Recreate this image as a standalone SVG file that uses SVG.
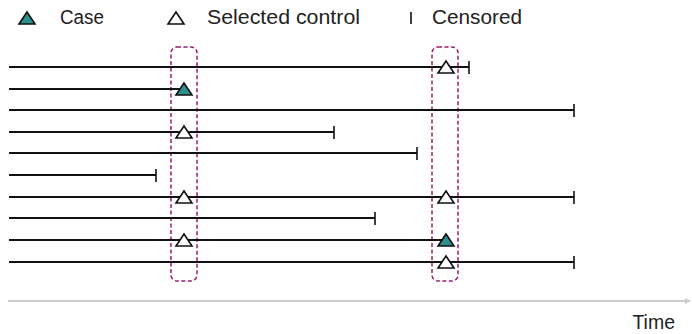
<svg xmlns="http://www.w3.org/2000/svg" width="692" height="334" viewBox="0 0 692 334">
<style>
.l{stroke:#111;stroke-width:1.8;fill:none}
.t{stroke:#111;stroke-width:1.6}
.ctrl{fill:#fff;stroke:#111;stroke-width:1.6;stroke-linejoin:miter}
.case{fill:#2a8f8f;stroke:#111;stroke-width:1.6}
.box{fill:none;stroke:#9c1c6c;stroke-width:1.5;stroke-dasharray:4 2.5}
.txt{font-family:"Liberation Sans",Arial,sans-serif;font-size:19.5px;fill:#222}
</style>
<defs>
<path id="tri" d="M0,-7 L8,5 L-8,5 Z"/>
<marker id="ah" markerWidth="6" markerHeight="6" refX="5" refY="3" orient="auto" markerUnits="userSpaceOnUse"><path d="M0,0 L6,3 L0,6 Z" fill="#ccc"/></marker>
</defs>
<g id="legend">
<use href="#tri" class="case" x="27" y="19"/>
<text class="txt" x="60" y="24" textLength="44" lengthAdjust="spacingAndGlyphs">Case</text>
<use href="#tri" class="ctrl" x="176" y="19"/>
<text class="txt" x="207" y="24" textLength="153" lengthAdjust="spacingAndGlyphs">Selected control</text>
<line class="t" x1="411" y1="12" x2="411" y2="24"/>
<text class="txt" x="432" y="24" textLength="90" lengthAdjust="spacingAndGlyphs">Censored</text>
</g>
<g id="risk-sets">
<rect class="box" x="171" y="47" width="26" height="234" rx="6"/>
<rect class="box" x="432" y="47" width="26" height="234" rx="6"/>
</g>
<g id="connectors">
<line class="l" x1="9" y1="67" x2="469" y2="67"/><line class="t" x1="469" y1="61" x2="469" y2="74"/>
<line class="l" x1="9" y1="89" x2="184" y2="89"/>
<line class="l" x1="9" y1="110" x2="574" y2="110"/><line class="t" x1="574" y1="104" x2="574" y2="117"/>
<line class="l" x1="9" y1="132" x2="334" y2="132"/><line class="t" x1="334" y1="126" x2="334" y2="139"/>
<line class="l" x1="9" y1="153" x2="417" y2="153"/><line class="t" x1="417" y1="147" x2="417" y2="160"/>
<line class="l" x1="9" y1="175" x2="156" y2="175"/><line class="t" x1="156" y1="169" x2="156" y2="182"/>
<line class="l" x1="9" y1="197" x2="574" y2="197"/><line class="t" x1="574" y1="191" x2="574" y2="204"/>
<line class="l" x1="9" y1="218" x2="375" y2="218"/><line class="t" x1="375" y1="212" x2="375" y2="225"/>
<line class="l" x1="9" y1="240" x2="446" y2="240"/>
<line class="l" x1="9" y1="262" x2="574" y2="262"/><line class="t" x1="574" y1="256" x2="574" y2="269"/>
<line x1="8" y1="301" x2="690" y2="301" stroke="#ccc" stroke-width="1.8" marker-end="url(#ah)"/>
</g>
<g id="events">
<use href="#tri" class="ctrl" x="446" y="68"/>
<use href="#tri" class="case" x="184" y="90"/>
<use href="#tri" class="ctrl" x="184" y="133"/>
<use href="#tri" class="ctrl" x="184" y="198"/>
<use href="#tri" class="ctrl" x="446" y="198"/>
<use href="#tri" class="ctrl" x="184" y="241"/>
<use href="#tri" class="case" x="446" y="241"/>
<use href="#tri" class="ctrl" x="446" y="263"/>
</g>
<text class="txt" x="675" y="329" text-anchor="end" font-size="20">Time</text>
</svg>
